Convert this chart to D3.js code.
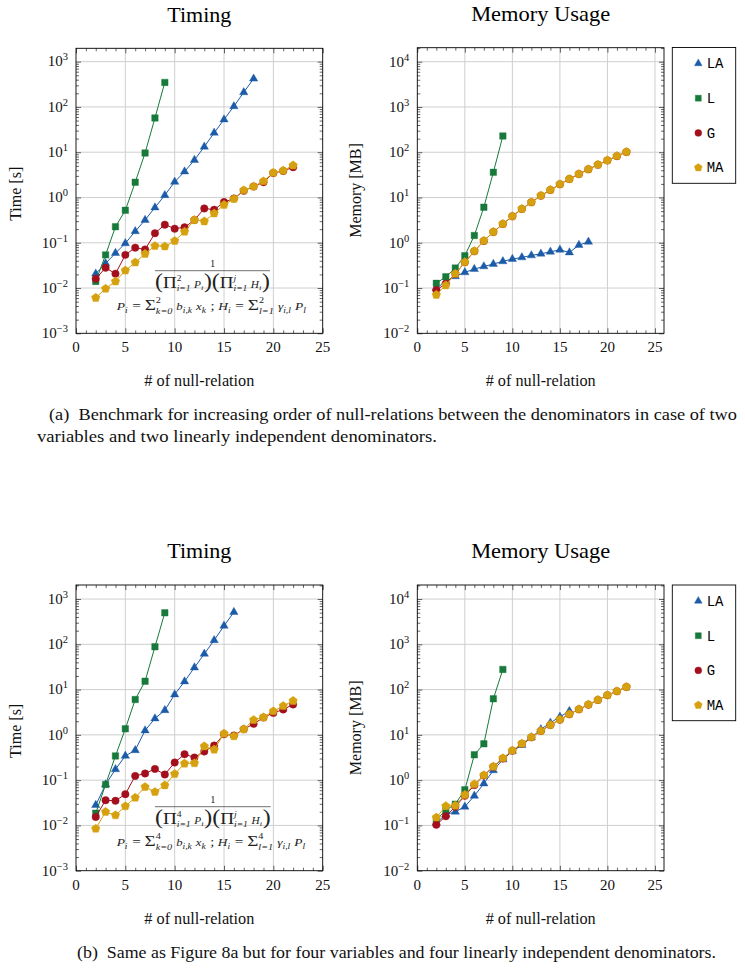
<!DOCTYPE html>
<html><head><meta charset="utf-8">
<script src="https://cdn.jsdelivr.net/npm/d3@7"></script>
<style>body{margin:0;background:#fff} text.pre{white-space:pre}</style>
</head><body><svg id="c" width="745" height="969" xmlns="http://www.w3.org/2000/svg"></svg>
<script>
// ---------- DATA ----------
const xs2to9  = [2,3,4,5,6,7,8,9];
const xs2to16 = [2,3,4,5,6,7,8,9,10,11,12,13,14,15,16];
const xs2to18 = [2,3,4,5,6,7,8,9,10,11,12,13,14,15,16,17,18];
const xs2to22 = [2,3,4,5,6,7,8,9,10,11,12,13,14,15,16,17,18,19,20,21,22];

const xTicks = [0,5,10,15,20,25];
const timeTicks = [1e-3,1e-2,1e-1,1e0,1e1,1e2,1e3];
const memTicks  = [1e-2,1e-1,1e0,1e1,1e2,1e3,1e4];

const seriesNames = ["LA","L","G","MA"];

// (a) Timing [s]
const aTimeLA = [0.0207,0.035,0.059,0.097,0.179,0.318,0.60,1.12,2.21,3.73,6.72,13.2,26.8,52.7,103,210,420];
const aTimeL  = [0.014,0.054,0.226,0.52,2.17,9.6,57,348];
const aTimeG  = [0.016,0.028,0.0207,0.054,0.078,0.071,0.162,0.251,0.205,0.219,0.318,0.573,0.536,0.79,0.95,1.40,1.75,2.17,3.48,3.86,4.64];
const aTimeMA = [0.0061,0.0097,0.014,0.0244,0.0367,0.057,0.085,0.083,0.11,0.176,0.318,0.297,0.445,0.69,0.93,1.45,1.75,2.29,3.54,3.92,5.14];

// (a) Memory [MB]
const aMemLA = [0.10,0.138,0.181,0.222,0.262,0.30,0.339,0.389,0.436,0.475,0.525,0.572,0.63,0.70,0.61,0.89,1.05];
const aMemL  = [0.127,0.178,0.276,0.516,1.45,6.1,36,229];
const aMemG  = [0.09,0.125,0.205,0.37,0.65,1.1,1.73,2.6,3.84,5.58,7.85,11,14.7,19.6,25.6,33,42,53,66,82,101];
const aMemMA = [0.071,0.115,0.207,0.375,0.655,1.11,1.75,2.62,3.87,5.62,7.9,11.1,14.8,19.7,25.8,33.3,42.2,53.5,66.6,83,102];

// (b) Timing [s]
const bTimeLA = [0.028,0.08,0.174,0.343,0.458,1.25,2.3,3.5,7.8,15.1,30.7,61.5,123,256,513];
const bTimeL  = [0.0186,0.08,0.343,1.36,6.03,15.3,88,496];
const bTimeG  = [0.0154,0.036,0.035,0.049,0.124,0.14,0.177,0.133,0.245,0.374,0.316,0.428,0.58,1.03,0.97,1.33,1.75,2.41,3.06,3.63,4.68];
const bTimeMA = [0.0085,0.020,0.0168,0.0266,0.041,0.071,0.055,0.077,0.137,0.233,0.237,0.56,0.474,1.07,0.935,1.33,2.14,2.45,3.33,4.37,5.64];

// (b) Memory [MB]
const bMemLA = [0.114,0.174,0.2,0.258,0.45,0.84,1.64,2.86,4.37,5.93,8.77,13.2,18.5,25,33.4];
const bMemL  = [0.135,0.217,0.295,0.61,3.63,6.35,62.6,279];
const bMemG  = [0.103,0.16,0.258,0.45,0.776,1.27,1.97,3.0,4.45,6.35,8.8,12.2,16.5,21.7,28.4,36.6,46.5,59,75,92,114];
const bMemMA = [0.15,0.267,0.275,0.474,0.816,1.29,2.0,3.06,4.52,6.45,8.9,12.3,16.7,21.9,28.7,37,47,59.6,75.5,92.5,115];

const captionA1 = "(a)  Benchmark for increasing order of null-relations between the denominators in case of two";
const captionA2 = "variables and two linearly independent denominators.";
const captionB  = "(b)  Same as Figure 8a but for four variables and four linearly independent denominators.";

// ---------- STYLE ----------
const FONT = "'Liberation Serif','Times New Roman',serif";
const MONO = "'Liberation Mono','DejaVu Sans Mono',monospace";
const colors = {LA:"#1c5ba8", L:"#177a3b", G:"#a30f1d", MA:"#d6a10f"};
const pentagon = {draw(ctx, size){
  const r = Math.sqrt(size/2.378);
  for (let k=0;k<5;k++){ const a=-Math.PI/2+k*2*Math.PI/5;
    const px=r*Math.cos(a), py=r*Math.sin(a);
    if(k===0) ctx.moveTo(px,py); else ctx.lineTo(px,py); }
  ctx.closePath(); }};
const shapes = {LA:d3.symbolTriangle, L:d3.symbolSquare, G:d3.symbolCircle, MA:pentagon};
const sizes = {LA:30, L:42, G:44, MA:48};

const svg = d3.select("#c");
svg.append("rect").attr("width",745).attr("height",969).attr("fill","#fff");

function supText(t, exp, fs){
  t.append("tspan").text("10");
  t.append("tspan").attr("dy",-6).attr("font-size",fs*0.7).text(exp < 0 ? "\u2212"+(-exp) : String(exp));
}

function panel(cfg){
  const g = svg.append("g");
  const x = d3.scaleLinear().domain([0,cfg.xmax]).range([cfg.left,cfg.right]);
  const y = d3.scaleLog().domain([cfg.ticks[0], Math.pow(10,cfg.yHiExp)]).range([cfg.bottom,cfg.top]);
  const W = cfg.right-cfg.left, H = cfg.bottom-cfg.top;
  const grid = g.append("g").attr("stroke","#cfcfcf").attr("stroke-width",1);
  xTicks.filter(v=>v>0 && v<cfg.xmax).forEach(v=>grid.append("line").attr("x1",x(v)).attr("x2",x(v)).attr("y1",cfg.top).attr("y2",cfg.bottom));
  cfg.ticks.filter((v,i)=>i>0).forEach(v=>grid.append("line").attr("y1",y(v)).attr("y2",y(v)).attr("x1",cfg.left).attr("x2",cfg.right));
  const yMinor = [];
  const e0 = Math.round(Math.log10(cfg.ticks[0]));
  for (let e=e0; e<=Math.floor(cfg.yHiExp); e++) for (let m=2;m<=9;m++){ const v=m*Math.pow(10,e); if (v < Math.pow(10,cfg.yHiExp)) yMinor.push(v); }
  const xMinor = d3.range(1, Math.floor(cfg.xmax)+1).filter(v=>v%5!==0);
  const tickStyle = sel => { sel.select(".domain").remove(); sel.selectAll("line").attr("stroke","#000").attr("stroke-width",0.6); sel.selectAll("text").remove(); };
  g.append("g").attr("transform",`translate(${cfg.left},0)`).call(d3.axisLeft(y).tickValues(cfg.ticks).tickSizeInner(-5).tickSizeOuter(0)).call(tickStyle);
  g.append("g").attr("transform",`translate(${cfg.right},0)`).call(d3.axisRight(y).tickValues(cfg.ticks).tickSizeInner(-5).tickSizeOuter(0)).call(tickStyle);
  g.append("g").attr("transform",`translate(${cfg.left},0)`).call(d3.axisLeft(y).tickValues(yMinor).tickSizeInner(-3).tickSizeOuter(0)).call(tickStyle);
  g.append("g").attr("transform",`translate(${cfg.right},0)`).call(d3.axisRight(y).tickValues(yMinor).tickSizeInner(-3).tickSizeOuter(0)).call(tickStyle);
  g.append("g").attr("transform",`translate(0,${cfg.bottom})`).call(d3.axisBottom(x).tickValues(xTicks).tickSizeInner(-5).tickSizeOuter(0)).call(tickStyle);
  g.append("g").attr("transform",`translate(0,${cfg.top})`).call(d3.axisTop(x).tickValues(xTicks).tickSizeInner(-5).tickSizeOuter(0)).call(tickStyle);
  g.append("g").attr("transform",`translate(0,${cfg.bottom})`).call(d3.axisBottom(x).tickValues(xMinor).tickSizeInner(-3).tickSizeOuter(0)).call(tickStyle);
  g.append("g").attr("transform",`translate(0,${cfg.top})`).call(d3.axisTop(x).tickValues(xMinor).tickSizeInner(-3).tickSizeOuter(0)).call(tickStyle);
  cfg.ticks.forEach(v=>{
    const t = g.append("text").attr("x",cfg.left-8).attr("y",y(v)+4.8).attr("text-anchor","end")
      .attr("font-family",FONT).attr("font-size",15).attr("fill","#111");
    supText(t, Math.round(Math.log10(v)), 15);
  });
  xTicks.forEach(v=>{
    g.append("text").attr("x",x(v)).attr("y",cfg.bottom+18.8).attr("text-anchor","middle")
      .attr("font-family",FONT).attr("font-size",15).attr("fill","#111").text(v);
  });
  const clip = "clip"+cfg.id;
  g.append("clipPath").attr("id",clip).append("rect").attr("x",cfg.left-6).attr("y",cfg.top-6).attr("width",W+12).attr("height",H+12);
  const line = d3.line().x(d=>x(d[0])).y(d=>y(d[1]));
  const sg = g.append("g").attr("clip-path",`url(#${clip})`);
  seriesNames.forEach(name=>{
    const [xv, yv] = cfg.data[name];
    const pts = xv.map((xx,i)=>[xx,yv[i]]);
    sg.append("path").attr("d",line(pts)).attr("fill","none").attr("stroke",colors[name]).attr("stroke-width",1);
    sg.selectAll(null).data(pts).enter().append("path")
      .attr("transform",d=>`translate(${x(d[0])},${y(d[1])})`)
      .attr("d",d3.symbol().type(shapes[name]).size(sizes[name]))
      .attr("fill",colors[name]).attr("stroke",colors[name]).attr("stroke-width",0.4);
  });
  g.append("rect").attr("x",cfg.left).attr("y",cfg.top).attr("width",W).attr("height",H)
    .attr("fill","none").attr("stroke","#000").attr("stroke-width",0.9);
  const cx = (cfg.left+cfg.right)/2;
  g.append("text").attr("x",cx).attr("y",cfg.top-26.6).attr("text-anchor","middle")
    .attr("font-family",FONT).attr("font-size",21.5).attr("fill","#000")
    .attr("textLength",cfg.titleW).attr("lengthAdjust","spacingAndGlyphs").text(cfg.title);
  g.append("text").attr("x",cx).attr("y",cfg.bottom+53).attr("text-anchor","middle")
    .attr("font-family",FONT).attr("font-size",16).attr("fill","#111")
    .attr("textLength",110).attr("lengthAdjust","spacingAndGlyphs").text("# of null-relation");
  g.append("text").attr("transform",`translate(${cfg.ylabelX},${(cfg.top+cfg.bottom)/2+cfg.ylabelDy}) rotate(-90)`)
    .attr("text-anchor","middle").attr("font-family",FONT).attr("font-size",16).attr("fill","#111").text(cfg.ylabel);
  if (cfg.legend) legend(cfg.legend);
  return {x,y};
}

function legend(L){
  const g = svg.append("g");
  g.append("rect").attr("x",L.x0).attr("y",L.y0).attr("width",L.x1-L.x0).attr("height",L.y1-L.y0)
    .attr("fill","#fff").attr("stroke","#000").attr("stroke-width",0.9);
  seriesNames.forEach((name,i)=>{
    const yy = L.y0 + 16 + i*34.7;
    g.append("path").attr("transform",`translate(${L.x0+26},${yy})`)
      .attr("d",d3.symbol().type(shapes[name]).size(sizes[name]*0.85))
      .attr("fill",colors[name]).attr("stroke",colors[name]).attr("stroke-width",0.4);
    g.append("text").attr("x",L.x0+34.4).attr("y",yy+4.8).attr("font-family",MONO).attr("font-size",14)
      .attr("fill","#000").text(name);
  });
}

function mathRow(g, items){
  let x = 0;
  const put = (t, px, dy, fs, it) => {
    const el = g.append("text").attr("class","pre").attr("xml:space","preserve").attr("x",px).attr("y",dy).attr("font-size",fs)
      .attr("font-family",FONT).attr("font-style",it?"italic":"normal").attr("fill","#222").text(t);
    return el.node().getComputedTextLength();
  };
  items.forEach(it=>{
    if (it.sup!==undefined || it.sub!==undefined){
      let w = 0;
      if (it.sup!==undefined) w = Math.max(w, put(it.sup, x, it.supDy||-5.5, it.sfs||7.5, it.supIt));
      if (it.sub!==undefined) w = Math.max(w, put(it.sub, x, it.subDy||3.5, it.sfs||7.5, true));
      x += w + 0.6;
    } else {
      x += put(it.t, x, 0, it.fs, it.it);
    }
  });
  return x;
}

function formula(n, lineY, x0, x1, x2a, x2b){
  const g = svg.append("g");
  g.append("text").attr("x",(x0+x1)/2).attr("y",lineY-4).attr("text-anchor","middle")
    .attr("font-family",FONT).attr("font-size",10.5).attr("fill","#222").text("1");
  g.append("line").attr("x1",x0).attr("x2",x1).attr("y1",lineY).attr("y2",lineY).attr("stroke","#333").attr("stroke-width",0.7);
  const den = g.append("g");
  const w1 = mathRow(den, [
    {t:"(",fs:20},{t:"\u03A0",fs:16},{sup:String(n),sub:"i=1",supDy:-7,subDy:3.5,sfs:8},{t:" P",fs:9.5,it:1},{sub:"i",sfs:7,subDy:2.5},{t:")",fs:20},
    {t:"(",fs:20},{t:"\u03A0",fs:16},{sup:"j",supIt:1,sub:"i=1",supDy:-7,subDy:3.5,sfs:8},{t:" H",fs:9.5,it:1},{sub:"i",sfs:7,subDy:2.5},{t:")",fs:20}]);
  den.attr("transform",`translate(${x0},${lineY+17}) scale(${(x1-x0)/w1},1)`);
  const l2 = g.append("g");
  const w2 = mathRow(l2, [
    {t:"P",fs:10.5,it:1},{sub:"i"},{t:" = ",fs:12},{t:"\u03A3",fs:15},{sup:String(n),sub:"k=0",supDy:-7,subDy:4,sfs:8},
    {t:" b",fs:10,it:1},{sub:"i,k"},{t:" x",fs:10,it:1},{sub:"k"},{t:" ; ",fs:11.5},
    {t:"H",fs:10.5,it:1},{sub:"i"},{t:" = ",fs:12},{t:"\u03A3",fs:15},{sup:String(n),sub:"l=1",supDy:-7,subDy:4,sfs:8},
    {t:" \u03B3",fs:10.5,it:1},{sub:"i,l"},{t:" P",fs:10.5,it:1},{sub:"l"}]);
  l2.attr("transform",`translate(${x2a},${lineY+39}) scale(${(x2b-x2a)/w2},1)`);
}

// ---------- PANELS ----------
panel({id:"tl",left:76,right:322.7,top:48.3,bottom:333.3,xmax:25,ticks:timeTicks,yHiExp:3.295,
  title:"Timing",titleW:64,ylabel:"Time [s]",ylabelX:21,ylabelDy:3,
  data:{LA:[xs2to18,aTimeLA],L:[xs2to9,aTimeL],G:[xs2to22,aTimeG],MA:[xs2to22,aTimeMA]}});
panel({id:"tr",left:417.3,right:664,top:47.7,bottom:333.3,xmax:25.95,ticks:memTicks,yHiExp:4.31,
  title:"Memory Usage",titleW:139,ylabel:"Memory [MB]",ylabelX:360.5,ylabelDy:0,
  data:{LA:[xs2to18,aMemLA],L:[xs2to9,aMemL],G:[xs2to22,aMemG],MA:[xs2to22,aMemMA]},
  legend:{x0:672.3,x1:735.7,y0:47.5,y1:183.3}});
panel({id:"bl",left:76,right:322.7,top:585,bottom:870.7,xmax:25,ticks:timeTicks,yHiExp:3.31,
  title:"Timing",titleW:64,ylabel:"Time [s]",ylabelX:21,ylabelDy:3,
  data:{LA:[xs2to16,bTimeLA],L:[xs2to9,bTimeL],G:[xs2to22,bTimeG],MA:[xs2to22,bTimeMA]}});
panel({id:"br",left:417.3,right:664,top:585,bottom:870.7,xmax:25.95,ticks:memTicks,yHiExp:4.31,
  title:"Memory Usage",titleW:139,ylabel:"Memory [MB]",ylabelX:360.5,ylabelDy:0,
  data:{LA:[xs2to16,bMemLA],L:[xs2to9,bMemL],G:[xs2to22,bMemG],MA:[xs2to22,bMemMA]},
  legend:{x0:672.3,x1:735.7,y0:585,y1:720.7}});

formula(2, 270.7, 155, 270, 116.7, 306.7);
formula(4, 806.7, 155, 270.7, 116.7, 306);

// ---------- CAPTIONS ----------
function cap(t, x, y, w){
  svg.append("text").attr("class","pre").attr("x",x).attr("y",y).attr("font-family",FONT).attr("font-size",17).attr("fill","#111")
    .attr("textLength",w).attr("lengthAdjust","spacingAndGlyphs").attr("xml:space","preserve").text(t);
}
cap(captionA1, 49, 419.5, 688);
cap(captionA2, 37, 441.5, 400);
cap(captionB, 77, 958, 639);
</script></body></html>
